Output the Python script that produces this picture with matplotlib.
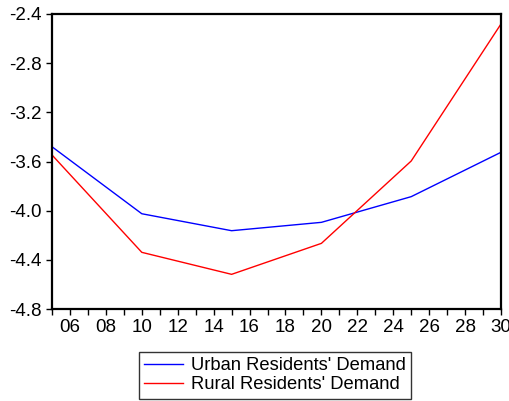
import matplotlib.pyplot as plt
from matplotlib.ticker import MultipleLocator, FuncFormatter

years = [2005, 2010, 2015, 2020, 2025, 2030]
urban = [-3.48, -4.025, -4.163, -4.095, -3.886, -3.525]
rural = [-3.547, -4.339, -4.518, -4.266, -3.596, -2.481]

plt.rcParams["font.family"] = ["Liberation Sans", "DejaVu Sans"]

fig = plt.figure(figsize=(5.10, 4.01), dpi=100)
ax = fig.add_axes([52 / 510, 92 / 401, 449 / 510, 295 / 401])

ax.plot(years, urban, color="#0000ff", lw=1.0, label="Urban Residents' Demand")
ax.plot(years, rural, color="#ff0000", lw=1.0, label="Rural Residents' Demand")

ax.set_xlim(2005, 2030)
ax.set_ylim(-4.8, -2.4)
ax.set_yticks([-4.8, -4.4, -4.0, -3.6, -3.2, -2.8, -2.4])
ax.yaxis.set_major_formatter(FuncFormatter(lambda v, p: "%.1f" % v))
ax.xaxis.set_major_locator(MultipleLocator(2))
ax.xaxis.set_minor_locator(MultipleLocator(1))
ax.xaxis.set_major_formatter(FuncFormatter(lambda v, p: "%02d" % (int(round(v)) % 100)))

for s in ax.spines.values():
    s.set_linewidth(1.6)
ax.tick_params(axis="both", which="both", direction="out", length=4.5, width=1.0,
               labelsize=13.5, color="black")
ax.tick_params(axis="x", pad=3)
ax.tick_params(axis="y", pad=3)

# legend box centred under the plot
leg = fig.legend(loc="upper center", bbox_to_anchor=(275 / 510, 1 - 352 / 401),
                 fontsize=13.2, frameon=True, fancybox=False, handlelength=2.1,
                 handletextpad=0.45, borderpad=0.3, labelspacing=0.1, borderaxespad=0)
leg.get_frame().set_edgecolor("black")
leg.get_frame().set_linewidth(1.0)

fig.savefig("out.png", dpi=100)
